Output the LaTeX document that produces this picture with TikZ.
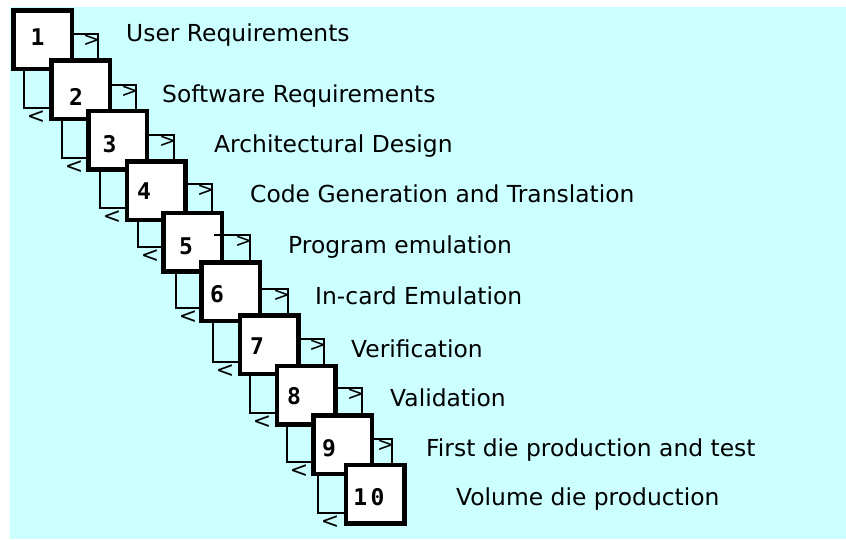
\documentclass[tikz,border=0pt]{standalone}
\usepackage{fontspec}
\setmainfont{DejaVu Sans}
\newfontfamily\numfont{DejaVu Sans Mono}
\definecolor{bgcyan}{HTML}{CCFFFF}
\pgfdeclarelayer{back}
\pgfdeclarelayer{loops}
\pgfsetlayers{back,loops,main}
\begin{document}
\begin{tikzpicture}[x=1pt,y=-1pt,
  stagebox/.style={draw,fill=white,line width=4.5pt,minimum size=58.5pt,inner sep=0pt,outer sep=0pt},
  loopline/.style={draw,line width=2pt},
  num/.style={inner sep=0pt,font=\numfont\bfseries\fontsize{23pt}{23pt}\selectfont},
  lbl/.style={anchor=base west,inner sep=0pt,font=\fontsize{23.4pt}{28pt}\selectfont},
  fwd/.style={inner sep=0pt,font=\fontsize{20pt}{20pt}\selectfont},
  bwd/.style={inner sep=0pt,font=\fontsize{22pt}{22pt}\selectfont}]
\useasboundingbox (0,0) rectangle (846,539);
\begin{pgfonlayer}{back}
\fill[bgcyan] (10,7) rectangle (846,539);
\end{pgfonlayer}

% boxes
\node[stagebox] (b1) at (42.5,39.5) {};
\node[stagebox] (b2) at (80.5,89.5) {};
\node[stagebox] (b3) at (117.5,140) {};
\node[stagebox] (b4) at (156,190.5) {};
\node[stagebox] (b5) at (192.5,242) {};
\node[stagebox] (b6) at (230.5,291.5) {};
\node[stagebox] (b7) at (269,344.5) {};
\node[stagebox] (b8) at (306,395) {};
\node[stagebox] (b9) at (342.5,444.5) {};
\node[stagebox] (b10) at (375,494) {};

% numbers
\node[num] (n1) at (37.5,37.5) {1};
\node[num] (n2) at (76,96.5) {2};
\node[num] (n3) at (109.5,144) {3};
\node[num] (n4) at (144,191) {4};
\node[num] (n5) at (186,246) {5};
\node[num] (n6) at (217,294) {6};
\node[num] (n7) at (257,346) {7};
\node[num] (n8) at (294,396) {8};
\node[num] (n9) at (329,448) {9};
\node[num] (n10) at (369,497.5) {1\kern3.5pt 0};

% loops (behind the boxes)
\begin{pgfonlayer}{loops}
\draw[loopline] (b1.east |- 0,34) -| (98,0 |- b2.north);
\draw[loopline] (b2.east |- 0,85) -| (136,0 |- b3.north);
\draw[loopline] (b3.east |- 0,135) -| (174,0 |- b4.north);
\draw[loopline] (b4.east |- 0,184) -| (212,0 |- b5.north);
\draw[loopline] (b6.east |- 0,289) -| (288,0 |- b7.north);
\draw[loopline] (b7.east |- 0,339) -| (324,0 |- b8.north);
\draw[loopline] (b8.east |- 0,388) -| (362,0 |- b9.north);
\draw[loopline] (b9.east |- 0,439) -| (392,0 |- b10.north);

\draw[loopline] (24,0 |- b1.south) |- (b2.west |- 0,108);
\draw[loopline] (62,0 |- b2.south) |- (b3.west |- 0,158);
\draw[loopline] (100,0 |- b3.south) |- (b4.west |- 0,208);
\draw[loopline] (138,0 |- b4.south) |- (b5.west |- 0,247);
\draw[loopline] (176,0 |- b5.south) |- (b6.west |- 0,308);
\draw[loopline] (213,0 |- b6.south) |- (b7.west |- 0,362);
\draw[loopline] (250,0 |- b7.south) |- (b8.west |- 0,413);
\draw[loopline] (287,0 |- b8.south) |- (b9.west |- 0,462);
\draw[loopline] (318,0 |- b9.south) |- (b10.west |- 0,513);
\end{pgfonlayer}
% loop 5 starts inside box 5
\coordinate (q5) at (214,235);
\draw[loopline] (q5) -| (250,0 |- b6.north);

% forward / backward marks
\node[fwd] (f1) at (91.5,41) {>};
\node[fwd] (f2) at (129.5,92) {>};
\node[fwd] (f3) at (167.5,142) {>};
\node[fwd] (f4) at (205.5,191) {>};
\node[fwd] (f5) at (243.5,242) {>};
\node[fwd] (f6) at (281.5,296) {>};
\node[fwd] (f7) at (317.5,346) {>};
\node[fwd] (f8) at (355.5,395) {>};
\node[fwd] (f9) at (385.5,446) {>};

\node[bwd] (r1) at (36,117) {<};
\node[bwd] (r2) at (74,167) {<};
\node[bwd] (r3) at (112,217) {<};
\node[bwd] (r4) at (150,256) {<};
\node[bwd] (r5) at (188,317) {<};
\node[bwd] (r6) at (225,371) {<};
\node[bwd] (r7) at (262,422) {<};
\node[bwd] (r8) at (299,471) {<};
\node[bwd] (r9) at (330,522) {<};

% labels
\node[lbl] (l1) at (126,41.5) {User Requirements};
\node[lbl] (l2) at (162,102.5) {Software Requirements};
\node[lbl] (l3) at (214,152) {Architectural Design};
\node[lbl] (l4) at (250,202.5) {Code Generation and Translation};
\node[lbl] (l5) at (288,253) {Program emulation};
\node[lbl] (l6) at (315,304.5) {In-card Emulation};
\node[lbl] (l7) at (351,357) {Verification};
\node[lbl] (l8) at (390,406.5) {Validation};
\node[lbl] (l9) at (426,456.5) {First die production and test};
\node[lbl] (l10) at (456,505.5) {Volume die production};
\end{tikzpicture}
\end{document}
